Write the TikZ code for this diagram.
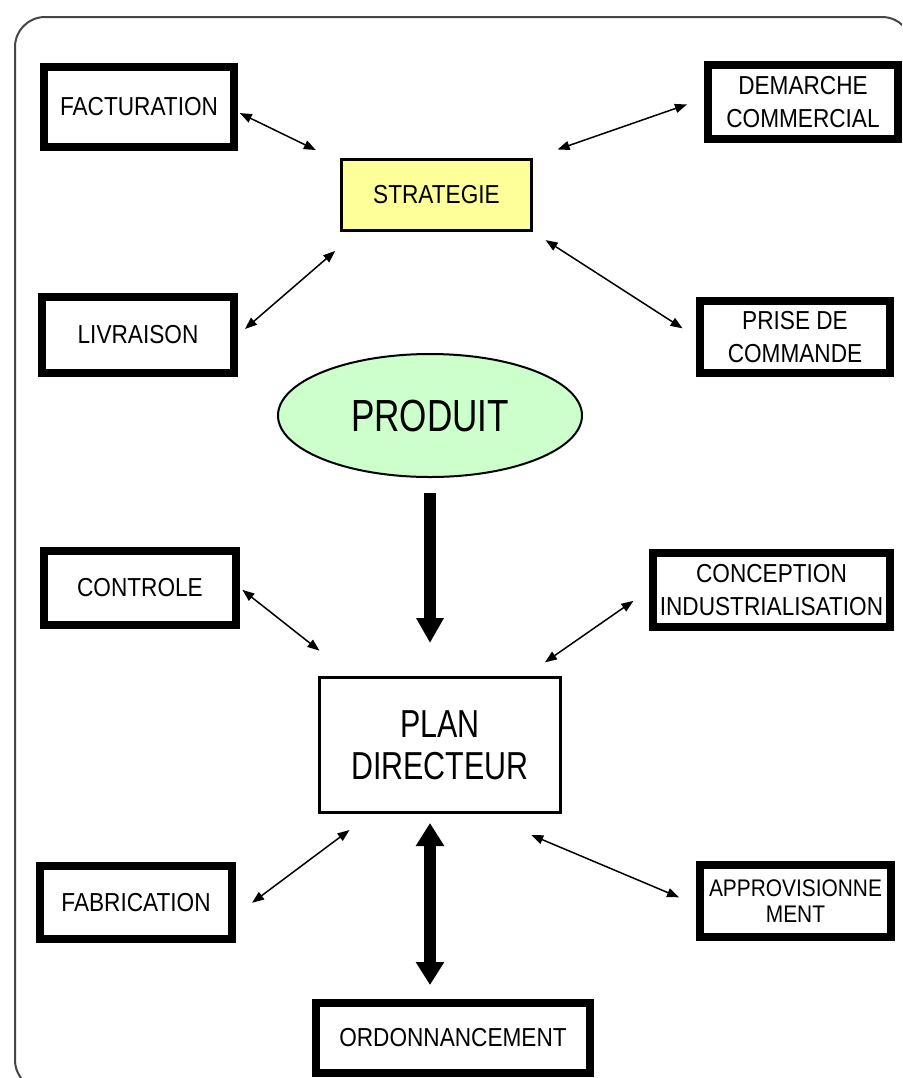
\documentclass[tikz,border=0pt]{standalone}
\usepackage{fontspec}
\setmainfont{Liberation Sans}
\newfontfamily\etroit[FakeStretch=0.87]{Liberation Sans}
\newfontfamily\grandfont[FakeStretch=0.78]{Liberation Sans}
\usetikzlibrary{positioning,shapes.geometric,arrows.meta}
\definecolor{jaune}{RGB}{255,255,153}
\definecolor{vertclair}{RGB}{204,255,204}
\definecolor{cadre}{RGB}{70,70,70}

\begin{document}
\begin{tikzpicture}[x=0.5pt, y=-0.5pt,
	boite/.style={draw, line width=4pt, align=center, inner sep=0pt, font=\etroit\fontsize{13}{16.5}\selectfont},
	lien/.style={line width=0.75pt, {Triangle[length=6pt,width=4.5pt]}-{Triangle[length=6pt,width=4.5pt]}},
	fleche/.style={line width=6pt, -{Triangle[length=12.5pt,width=13pt]}},
	doublefleche/.style={line width=6pt, {Triangle[length=11.5pt,width=13.5pt]}-{Triangle[length=11.5pt,width=13.5pt]}}]
	\useasboundingbox (0,0) rectangle (902,1078);
	\clip (0,0) rectangle (902,1078);
	% Cadre
	\draw [cadre, line width=1pt, rounded corners=15pt] (15,17) rectangle (912,1090);

	% Strategie
	\node [draw, line width=1.5pt, fill=jaune, inner sep=0pt, minimum width=95pt, minimum height=35.5pt, font=\etroit\fontsize{13}{16.5}\selectfont] (strat) at (436.5,195) {STRATEGIE};
	\node [boite, minimum width=95pt, minimum height=40pt] (fact) at (139,107) {FACTURATION};
	\node [boite, minimum width=96pt, minimum height=38pt] (livr) at (138,335) {LIVRAISON};
	\node [boite, minimum width=95pt, minimum height=37pt] (dem) at (803,102) {DEMARCHE\\COMMERCIAL};
	\node [boite, minimum width=95pt, minimum height=36pt] (prise) at (795,337) {PRISE DE\\COMMANDE};

	% Produit
	\node [draw, ellipse, line width=1pt, fill=vertclair, inner sep=0pt, minimum width=152pt, minimum height=61.5pt, font=\grandfont\fontsize{22.5}{24}\selectfont] (produit) at (430,415.5) {PRODUIT};

	% Plan directeur
	\node [draw, line width=1.5pt, align=center, inner sep=0pt, minimum width=120.5pt, minimum height=67.5pt, font=\grandfont\fontsize{19.5}{21}\selectfont] (plan) at (440,745) {PLAN\\DIRECTEUR};
	\node [boite, minimum width=96pt, minimum height=37pt] (ctrl) at (140,588) {CONTROLE};
	\node [boite, minimum width=118.5pt, minimum height=37pt] (conc) at (771.5,590) {CONCEPTION\\INDUSTRIALISATION};
	\node [boite, minimum width=96pt, minimum height=36.5pt] (fab) at (136,902.5) {FABRICATION};
	\node [boite, minimum width=95.5pt, minimum height=36pt, font=\etroit\fontsize{12}{13}\selectfont] (appro) at (795.5,901) {APPROVISIONNE\\MENT};
	\node [boite, minimum width=137pt, minimum height=35pt] (ordo) at (453,1038) {ORDONNANCEMENT};

	% Liens strategie
	\draw [lien, shorten <=1pt, shorten >=13.4pt] (fact.-3) -- (strat.161);
	\draw [lien, shorten <=4.6pt, shorten >=14.5pt] (livr.east) -- (strat.205);
	\draw [lien, shorten <=9pt, shorten >=13pt] (dem.178) -- (strat.north east);
	\draw [lien, shorten <=7.5pt, shorten >=8pt] (strat.south east) -- (prise.west);

	% Liens plan directeur
	\draw [lien, shorten <=1.5pt, shorten >=20.5pt] (ctrl.east) -- (plan.142);
	\draw [lien, shorten <=9.5pt, shorten >=12pt] (conc.west) -- (plan.39);
	\draw [lien, shorten <=10pt, shorten >=13.4pt] (fab.-7) -- (plan.225);
	\draw [lien, shorten <=27pt, shorten >=9.2pt] (plan.-59) -- (appro.182);

	% Grosses fleches
	\draw [fleche, shorten <=7.5pt, shorten >=16.5pt] (produit.south) -- (produit.south |- plan.north);
	\draw [doublefleche, shorten <=4.5pt, shorten >=7pt] (produit.south |- plan.south) -- (produit.south |- ordo.north);
\end{tikzpicture}
\end{document}
